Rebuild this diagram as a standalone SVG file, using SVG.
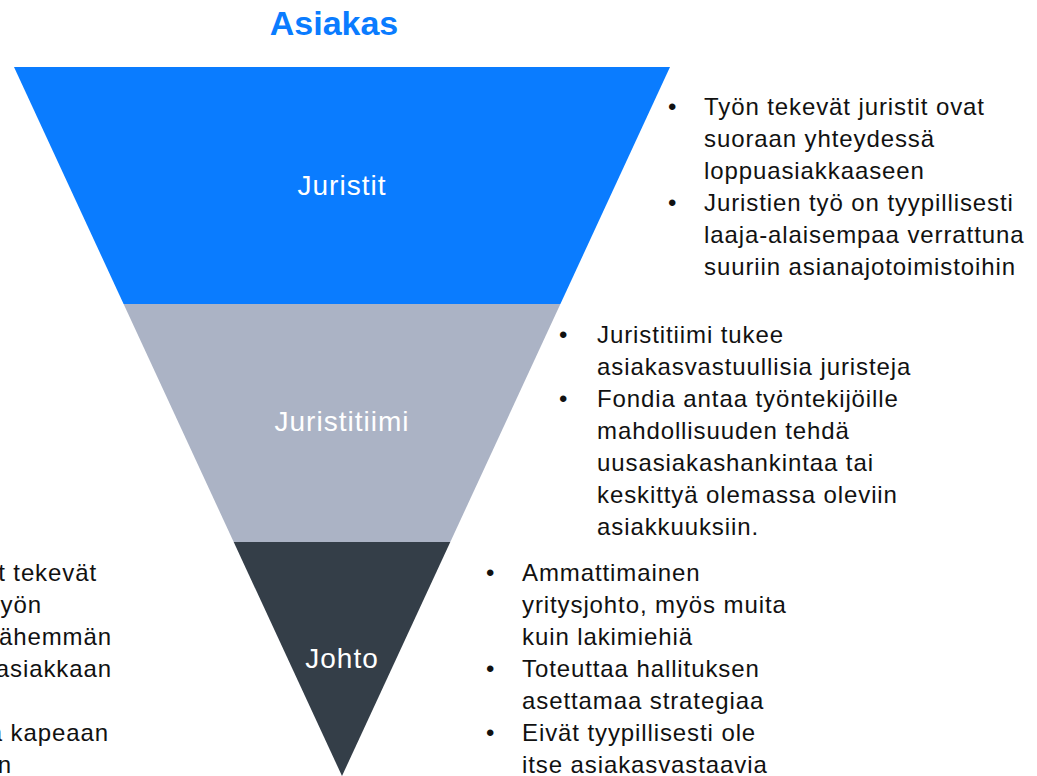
<svg xmlns="http://www.w3.org/2000/svg" width="1037" height="776" viewBox="0 0 1037 776">
<style>
.t{font-family:"Liberation Sans",Arial,sans-serif;font-size:24px;letter-spacing:0.9px;fill:#111}
.e{text-anchor:end}
.lbl{font-family:"Liberation Sans",Arial,sans-serif;font-size:28px;letter-spacing:1px;fill:#fff;text-anchor:middle}
.title{font-family:"Liberation Sans",Arial,sans-serif;font-size:34px;font-weight:bold;fill:#0A7CFF;text-anchor:middle}
</style>
<rect width="1037" height="776" fill="#fff"/>
<text class="title" x="334" y="35">Asiakas</text>
<g id="juristit">
<polygon points="14,67 670,67 560.4,304 123.6,304" fill="#0A7CFF"/>
<text class="lbl" x="342" y="195">Juristit</text>
</g>
<g id="juristitiimi">
<polygon points="123.6,304 560.4,304 450.3,542 233.7,542" fill="#ABB3C5"/>
<text class="lbl" x="342" y="431">Juristitiimi</text>
</g>
<g id="johto">
<polygon points="233.7,542 450.3,542 342,776" fill="#343E48"/>
<text class="lbl" x="342" y="668">Johto</text>
</g>
<g id="notes-juristit">
<text class="t" x="668" y="115">•</text>
<text class="t" x="704" y="115">Työn tekevät juristit ovat</text>
<text class="t" x="704" y="147">suoraan yhteydessä</text>
<text class="t" x="704" y="179">loppuasiakkaaseen</text>
<text class="t" x="668" y="211">•</text>
<text class="t" x="704" y="211">Juristien työ on tyypillisesti</text>
<text class="t" x="704" y="243">laaja-alaisempaa verrattuna</text>
<text class="t" x="704" y="275">suuriin asianajotoimistoihin</text>
</g>
<g id="notes-juristitiimi">
<text class="t" x="559" y="343">•</text>
<text class="t" x="597" y="343">Juristitiimi tukee</text>
<text class="t" x="597" y="375">asiakasvastuullisia juristeja</text>
<text class="t" x="559" y="407">•</text>
<text class="t" x="597" y="407">Fondia antaa työntekijöille</text>
<text class="t" x="597" y="439">mahdollisuuden tehdä</text>
<text class="t" x="597" y="471">uusasiakashankintaa tai</text>
<text class="t" x="597" y="503">keskittyä olemassa oleviin</text>
<text class="t" x="597" y="535">asiakkuuksiin.</text>
</g>
<g id="notes-johto">
<text class="t" x="486" y="581">•</text>
<text class="t" x="522" y="581">Ammattimainen</text>
<text class="t" x="522" y="613">yritysjohto, myös muita</text>
<text class="t" x="522" y="645">kuin lakimiehiä</text>
<text class="t" x="486" y="677">•</text>
<text class="t" x="522" y="677">Toteuttaa hallituksen</text>
<text class="t" x="522" y="709">asettamaa strategiaa</text>
<text class="t" x="486" y="741">•</text>
<text class="t" x="522" y="741">Eivät tyypillisesti ole</text>
<text class="t" x="522" y="773">itse asiakasvastaavia</text>
</g>
<g id="notes-left">
<text class="t e" x="97" y="581">t tekevät</text>
<text class="t e" x="42" y="613">yön</text>
<text class="t e" x="112" y="645">ähemmän</text>
<text class="t e" x="112" y="677">asiakkaan</text>
<text class="t e" x="109" y="741">a kapeaan</text>
<text class="t e" x="12" y="773">n</text>
</g>
</svg>
